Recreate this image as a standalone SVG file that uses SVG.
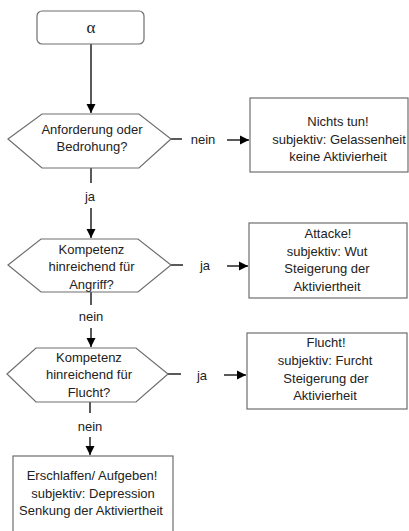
<svg xmlns="http://www.w3.org/2000/svg" width="409" height="531" viewBox="0 0 409 531">
<style>
.shape{fill:#fff;stroke:#6e6e6e;stroke-width:1.2}
.line{fill:none;stroke:#000;stroke-width:1.3}
text{font-family:"Liberation Sans",Arial,sans-serif;font-size:13px;fill:#222;text-anchor:middle}
.alpha{font-family:"Liberation Serif","DejaVu Serif",serif;font-size:17px}
</style>
<defs>
<marker id="ah" markerWidth="10" markerHeight="10" refX="9" refY="5" orient="auto" markerUnits="userSpaceOnUse">
<path d="M0,0.5 L9,5 L0,9.5 Z" fill="#000"/>
</marker>
</defs>
<rect width="409" height="531" fill="#fff"/>
<g id="connectors">
<line class="line" x1="91" y1="44" x2="91" y2="113" marker-end="url(#ah)"/>
<line class="line" x1="171" y1="139" x2="182" y2="139"/>
<text x="203" y="144">nein</text>
<line class="line" x1="227" y1="140" x2="249" y2="140" marker-end="url(#ah)"/>
<line class="line" x1="91" y1="168" x2="91" y2="183"/>
<text x="90" y="201">ja</text>
<line class="line" x1="91" y1="208" x2="91" y2="238" marker-end="url(#ah)"/>
<line class="line" x1="171" y1="265" x2="183" y2="265"/>
<text x="205" y="270">ja</text>
<line class="line" x1="227" y1="266" x2="248" y2="266" marker-end="url(#ah)"/>
<line class="line" x1="91" y1="292" x2="91" y2="305"/>
<text x="91" y="321">nein</text>
<line class="line" x1="91" y1="328" x2="91" y2="347" marker-end="url(#ah)"/>
<line class="line" x1="168" y1="374" x2="181" y2="374"/>
<text x="202" y="380">ja</text>
<line class="line" x1="224" y1="375" x2="246" y2="375" marker-end="url(#ah)"/>
<line class="line" x1="90" y1="402" x2="90" y2="413"/>
<text x="90" y="431">nein</text>
<line class="line" x1="90" y1="437" x2="90" y2="455" marker-end="url(#ah)"/>
</g>
<g id="start">
<rect class="shape" x="37" y="11" width="107" height="33" rx="5"/>
<text class="alpha" x="91" y="33">α</text>
</g>
<g id="decision1">
<polygon class="shape" points="8,139 42,114 139,114 171,139 139,168 42,168"/>
<text x="92" y="134">Anforderung oder</text>
<text x="92" y="151">Bedrohung?</text>
</g>
<g id="nichts">
<rect class="shape" x="250" y="98" width="158" height="74"/>
<text x="338" y="126">Nichts tun!</text>
<text x="339" y="144">subjektiv: Gelassenheit</text>
<text x="338" y="161">keine Aktivierheit</text>
</g>
<g id="decision2">
<polygon class="shape" points="8,265 41,239 138,239 171,265 138,292 41,292"/>
<text x="91.5" y="254">Kompetenz</text>
<text x="91.5" y="271">hinreichend für</text>
<text x="91.5" y="289">Angriff?</text>
</g>
<g id="attacke">
<rect class="shape" x="249" y="223" width="158" height="75"/>
<text x="328" y="238">Attacke!</text>
<text x="327" y="256">subjektiv: Wut</text>
<text x="327" y="273">Steigerung der</text>
<text x="327" y="291">Aktiviertheit</text>
</g>
<g id="decision3">
<polygon class="shape" points="7,374 36,348 136,348 168,374 136,402 36,402"/>
<text x="89" y="362">Kompetenz</text>
<text x="89" y="379">hinreichend für</text>
<text x="89" y="397">Flucht?</text>
</g>
<g id="flucht">
<rect class="shape" x="247" y="333" width="160" height="76"/>
<text x="326" y="347">Flucht!</text>
<text x="325" y="365">subjektiv: Furcht</text>
<text x="326" y="383">Steigerung der</text>
<text x="325" y="400">Aktivierheit</text>
</g>
<g id="erschlaffen">
<rect class="shape" x="13" y="456" width="160" height="90"/>
<text x="92" y="480">Erschlaffen/ Aufgeben!</text>
<text x="93" y="498">subjektiv: Depression</text>
<text x="91" y="515">Senkung der Aktiviertheit</text>
</g>
</svg>
